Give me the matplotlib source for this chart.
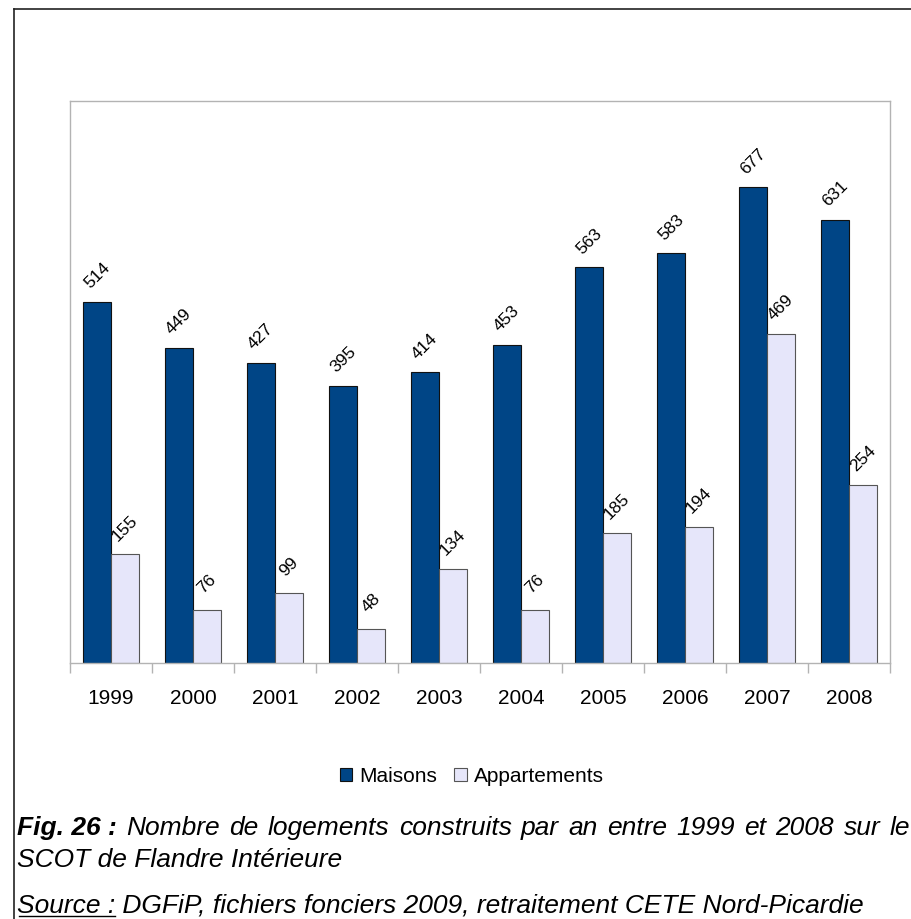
import numpy as np
import matplotlib
matplotlib.use("Agg")
import matplotlib.pyplot as plt
from matplotlib.patches import Patch
from matplotlib.lines import Line2D

plt.rcParams['font.family'] = ['Liberation Sans', 'DejaVu Sans']

# données
annees = ['1999', '2000', '2001', '2002', '2003', '2004', '2005', '2006', '2007', '2008']
maisons = [514, 449, 427, 395, 414, 453, 563, 583, 677, 631]
appartements = [155, 76, 99, 48, 134, 76, 185, 194, 469, 254]

series_labels = ['Maisons', 'Appartements']
col_maisons = '#004586'
col_appart = '#e6e6fa'

W, H = 912, 920
fig = plt.figure(figsize=(W / 100, H / 100), dpi=100)

# zone de tracé (en pixels de la figure)
left, right, top, bottom = 70, 890, 102, 664
ax = fig.add_axes([left / W, 1 - bottom / H, (right - left) / W, (bottom - top) / H])

x = np.arange(len(annees))
bw = 0.34
b1 = ax.bar(x - bw / 2, maisons, bw, color=col_maisons, edgecolor='#111111', linewidth=0.8)
b2 = ax.bar(x + bw / 2, appartements, bw, color=col_appart, edgecolor='#555555', linewidth=0.8)

for bars, vals in ((b1, maisons), (b2, appartements)):
    for r, v in zip(bars, vals):
        ax.annotate(str(v), (r.get_x() + r.get_width() / 2, r.get_height()),
                    xytext=(0, 19.5), textcoords='offset points',
                    rotation=45, ha='center', va='center', fontsize=12.5)

ax.set_xlim(-0.5, len(annees) - 0.5)
ax.set_ylim(0, 800)
ax.set_yticks([])
ax.set_xticks(x)
ax.set_xticklabels(annees, fontsize=15)
ax.tick_params(axis='x', which='major', length=0, pad=18)
ax.set_xticks(np.arange(len(annees) + 1) - 0.5, minor=True)
ax.tick_params(axis='x', which='minor', length=7.5, width=1, color='#b3b3b3')
for s in ax.spines.values():
    s.set_color('#b3b3b3')
    s.set_linewidth(1)

# légende
handles = [Patch(facecolor=col_maisons, edgecolor='#111111', linewidth=0.8),
           Patch(facecolor=col_appart, edgecolor='#555555', linewidth=0.8)]
fig.legend(handles, series_labels, loc='center', bbox_to_anchor=(472 / W, 1 - 777 / H),
           ncol=2, frameon=False, fontsize=15, handlelength=0.6, handleheight=0.6,
           handletextpad=0.35, columnspacing=0.8)

# cadre extérieur
fig.add_artist(Line2D([14 / W, 14 / W], [0, 1 - 10 / H], color='#222222', lw=1.2))
fig.add_artist(Line2D([14 / W, 1], [1 - 10 / H, 1 - 10 / H], color='#222222', lw=1.2))

# légende de la figure
cap_size = 19
y1 = 1 - 835 / H
words = ['Nombre', 'de', 'logements', 'construits', 'par', 'an', 'entre', '1999', 'et', '2008', 'sur', 'le']
t0 = fig.text(17 / W, y1, 'Fig. 26 :', fontsize=cap_size, style='italic', weight='bold', va='baseline')
wtexts = [fig.text(0, y1, w, fontsize=cap_size, style='italic', va='baseline') for w in words]
fig.text(17 / W, 1 - 867 / H, 'SCOT de Flandre Intérieure', fontsize=cap_size, style='italic', va='baseline')
src = fig.text(17 / W, 1 - 913 / H, 'Source :', fontsize=cap_size, style='italic', va='baseline')
suite = fig.text(0, 1 - 913 / H, ' DGFiP, fichiers fonciers 2009, retraitement CETE Nord-Picardie',
                 fontsize=cap_size, style='italic', va='baseline')

fig.canvas.draw()
rend = fig.canvas.get_renderer()
# justification de la première ligne
widths = [t.get_window_extent(rend).width for t in [t0] + wtexts]
end_x = 910
gap = (end_x - 17 - sum(widths)) / len(words)
xpos = 17 + widths[0] + gap
for t, w in zip(wtexts, widths[1:]):
    t.set_x(xpos / W)
    xpos += w + gap
# soulignement de "Source :" et suite du texte
bb = src.get_window_extent(rend)
suite.set_x(bb.x1 / W)
yl = (H - 917) / H
fig.add_artist(Line2D([(bb.x0 + 2) / W, bb.x1 / W], [yl, yl], color='black', lw=1))

fig.savefig('out.png', dpi=100)
